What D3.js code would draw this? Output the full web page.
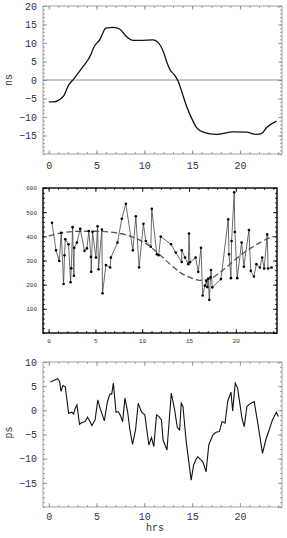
<!DOCTYPE html>
<html>
<head>
<meta charset="utf-8">
<script src="https://cdn.jsdelivr.net/npm/d3@7"></script>
<style>
  body { margin: 0; background: #fff; }
  svg text { font-family: "Liberation Mono", "Courier New", monospace; fill: #333; }
</style>
</head>
<body>
<div id="chart"></div>
<script>
// top panel: ns offset
const hours1 = [0, 0.5, 1.53, 2.05, 2.6, 3.6, 4.4, 4.67, 5.36, 5.98, 6.75, 7.45, 8.15, 8.85, 9.54, 10.93, 11.46, 11.98, 12.33, 12.68, 13.2, 13.55, 13.9, 14.42, 14.94, 15.47, 16.16, 17.56, 19.3, 20.7, 21.7, 22.25, 22.77, 23.82]
const ns = [-5.9, -5.9, -4.4, -1.5, 0.25, 3.66, 6.8, 8.6, 11, 14, 14.25, 13.7, 11.7, 10.7, 10.7, 10.85, 10.1, 7.7, 5, 2.8, 1.2, -0.4, -3, -7.1, -10.3, -12.9, -14.1, -14.7, -14, -14.1, -14.7, -14.5, -12.9, -11.1]

// middle panel: measurements and fitted curve
const hours2 = [0.36, 0.79, 1.14, 1.35, 1.6, 1.7, 1.78, 2.13, 2.35, 2.42, 2.56, 2.7, 2.74, 3.02, 3.38, 3.84, 4.09, 4.3, 4.52, 4.55, 4.69, 5.05, 5.23, 5.33, 5.69, 5.76, 6.12, 6.58, 6.65, 7.36, 7.82, 8.25, 9.0, 9.32, 9.67, 10.13, 10.38, 10.92, 11.02, 11.56, 11.75, 11.98, 13.08, 13.58, 14.22, 14.22, 14.57, 14.93, 15.0, 15.1, 15.71, 15.99, 16.28, 16.46, 16.7, 16.85, 16.95, 17.05, 17.17, 17.3, 17.35, 17.49, 18.41, 19.19, 19.27, 19.48, 19.55, 19.83, 19.9, 20.15, 20.62, 20.86, 21.4, 21.6, 21.93, 22.2, 22.57, 22.82, 23.03, 23.35, 23.45, 23.82]
const counts = [456, 342, 298, 415, 203, 322, 388, 367, 210, 268, 438, 237, 353, 374, 431, 340, 350, 422, 315, 253, 419, 312, 442, 264, 428, 164, 281, 271, 312, 374, 473, 535, 342, 483, 271, 452, 381, 357, 514, 326, 322, 399, 367, 333, 294, 342, 312, 285, 412, 293, 312, 253, 353, 155, 196, 215, 190, 225, 137, 230, 261, 189, 223, 470, 326, 227, 381, 582, 418, 227, 374, 274, 426, 257, 234, 285, 271, 312, 267, 408, 267, 271]
const fitHours = [0, 1.6, 3.38, 5.16, 6.93, 8.7, 10.5, 11.7, 12.97, 14.04, 15.1, 16.17, 17.24, 18.3, 19.37, 20.4, 21.5, 22.57, 23.6, 24.1]
const fitValues = [401, 416, 421, 421, 416, 401, 367, 330, 285, 251, 230, 218, 224, 251, 285, 319, 349, 374, 394, 400]

// bottom panel: ps residual
const hours3 = [0.17, 0.69, 0.94, 1.14, 1.28, 1.49, 1.73, 2.08, 2.43, 2.6, 2.77, 2.95, 3.22, 3.47, 3.81, 4.06, 4.26, 4.51, 4.85, 5.13, 5.37, 5.82, 6.14, 6.41, 6.59, 6.76, 7.04, 7.28, 7.52, 7.73, 7.97, 8.25, 8.49, 8.77, 9.08, 9.36, 9.71, 10.05, 10.47, 10.75, 10.99, 11.27, 11.54, 11.79, 11.96, 12.37, 12.82, 13.17, 13.45, 13.69, 13.86, 14.04, 14.38, 14.9, 15.15, 15.42, 15.6, 16.12, 16.46, 16.74, 17.16, 17.5, 17.85, 18.13, 18.44, 18.72, 19.06, 19.24, 19.51, 19.76, 20.21, 20.45, 20.73, 21.14, 21.49, 21.84, 22.36, 22.7, 23.05, 23.4, 23.81, 24.02]
const ps = [5.84, 6.33, 6.54, 5.98, 3.91, 5.15, 4.88, -0.6, -0.39, -0.8, 0.44, 1.14, -2.88, -2.53, -2.33, -1.43, -2.12, -3.16, -1.98, 2.17, 0.44, -2.19, 1.83, 3.35, 3.35, 5.64, -0.39, -0.25, -1.15, -2.33, 2.52, -0.25, -4.06, -7.04, -4.06, 1.48, -0.39, -0.94, -7.17, -5.65, -7.52, -0.94, -1.29, -1.98, -6.14, -8.21, 3.56, 0.1, -3.57, -4.06, 1.48, 0.79, -6.48, -14.45, -11.33, -10.08, -9.6, -10.64, -12.71, -7.17, -5.1, -4.54, -4.4, -2.33, -2.67, 1.83, 3.77, -0.11, 5.64, 4.6, -1.63, -3.37, 0.79, 1.48, 1.83, -2.33, -8.91, -6.14, -4.06, -1.98, -0.39, -1.29]

const xTicks = [0, 5, 10, 15, 20]

const W = 287, H = 538
const svg = d3.select('#chart').append('svg')
  .attr('width', W).attr('height', H)

function panel(opts) {
  const x = d3.scaleLinear().domain([-0.6, 24.4]).range([opts.left, opts.right])
  const y = d3.scaleLinear().domain(opts.yDomain).range([opts.bottom, opts.top])
  const g = svg.append('g')
  const fs = opts.fontSize

  const minorX = d3.range(0, 25, 1)
  const minorY = d3.range(opts.yDomain[0], opts.yDomain[1] + 0.001, opts.yMinor)
  const majorY = d3.range(opts.yDomain[0], opts.yDomain[1] + 0.001, opts.yMajor)

  const style = sel => {
    sel.select('.domain').remove()
    sel.selectAll('line').attr('stroke', opts.frame).attr('stroke-width', 0.8)
    sel.selectAll('text').attr('font-size', fs).attr('fill', '#333')
      .style('font-family', '"Liberation Mono", "Courier New", monospace')
  }

  // minor ticks, all four sides
  g.append('g').attr('transform', `translate(0,${opts.bottom})`)
    .call(d3.axisBottom(x).tickValues(minorX).tickSize(-2).tickFormat('')).call(style)
  g.append('g').attr('transform', `translate(0,${opts.top})`)
    .call(d3.axisTop(x).tickValues(minorX).tickSize(-2).tickFormat('')).call(style)
  g.append('g').attr('transform', `translate(${opts.left},0)`)
    .call(d3.axisLeft(y).tickValues(minorY).tickSize(-2).tickFormat('')).call(style)
  g.append('g').attr('transform', `translate(${opts.right},0)`)
    .call(d3.axisRight(y).tickValues(minorY).tickSize(-2).tickFormat('')).call(style)

  // major ticks with labels
  g.append('g').attr('transform', `translate(0,${opts.bottom})`)
    .call(d3.axisBottom(x).tickValues(xTicks).tickSize(-4).tickPadding(opts.xPad).tickFormat(d3.format('d')))
    .call(style)
  g.append('g').attr('transform', `translate(0,${opts.top})`)
    .call(d3.axisTop(x).tickValues(xTicks).tickSize(-4).tickFormat('')).call(style)
  g.append('g').attr('transform', `translate(${opts.left},0)`)
    .call(d3.axisLeft(y).tickValues(opts.yLabels).tickSize(-4).tickPadding(opts.yPad).tickFormat(d3.format('d')))
    .call(style)
  g.append('g').attr('transform', `translate(${opts.right},0)`)
    .call(d3.axisRight(y).tickValues(majorY).tickSize(-4).tickFormat('')).call(style)

  // frame
  g.append('rect')
    .attr('x', opts.left).attr('y', opts.top)
    .attr('width', opts.right - opts.left).attr('height', opts.bottom - opts.top)
    .attr('fill', 'none').attr('stroke', opts.frame).attr('stroke-width', opts.frameWidth)

  return { x, y, g }
}

// ---- panel 1
const p1 = panel({ left: 43, right: 282, top: 6, bottom: 154, yDomain: [-20, 20], yMajor: 5, yMinor: 1,
  yLabels: [-15, -10, -5, 0, 5, 10, 15, 20], frame: '#8a8a8a', frameWidth: 0.8, fontSize: 10, xPad: 8, yPad: 6 })
p1.g.append('line')
  .attr('x1', 43).attr('x2', 282).attr('y1', p1.y(0)).attr('y2', p1.y(0))
  .attr('stroke', '#777').attr('stroke-width', 0.8)
p1.g.append('path')
  .datum(d3.zip(hours1, ns))
  .attr('fill', 'none').attr('stroke', '#111').attr('stroke-width', 1.3)
  .attr('d', d3.line().curve(d3.curveMonotoneX).x(d => p1.x(d[0])).y(d => p1.y(d[1])))
svg.append('text').attr('transform', `translate(12,${p1.y(0)}) rotate(-90)`)
  .attr('text-anchor', 'middle').attr('font-size', 10).text('ns')

// ---- panel 2
const p2 = panel({ left: 43, right: 277, top: 188, bottom: 333, yDomain: [0, 600], yMajor: 100, yMinor: 20,
  yLabels: [100, 200, 300, 400, 500, 600], frame: '#000', frameWidth: 1.4, fontSize: 6, xPad: 6, yPad: 6 })
p2.g.append('path')
  .datum(d3.zip(fitHours, fitValues))
  .attr('fill', 'none').attr('stroke', '#555').attr('stroke-width', 1.3)
  .attr('stroke-dasharray', '6,3')
  .attr('d', d3.line().curve(d3.curveMonotoneX).x(d => p2.x(d[0])).y(d => p2.y(d[1])))
const pts2 = d3.zip(hours2, counts)
p2.g.append('path')
  .datum(pts2)
  .attr('fill', 'none').attr('stroke', '#444').attr('stroke-width', 0.8)
  .attr('d', d3.line().x(d => p2.x(d[0])).y(d => p2.y(d[1])))
p2.g.selectAll('circle').data(pts2).join('circle')
  .attr('cx', d => p2.x(d[0])).attr('cy', d => p2.y(d[1]))
  .attr('r', 1.3).attr('fill', '#000')

// ---- panel 3
const p3 = panel({ left: 43, right: 282, top: 362, bottom: 507, yDomain: [-20, 10], yMajor: 5, yMinor: 1,
  yLabels: [-15, -10, -5, 0, 5, 10], frame: '#8a8a8a', frameWidth: 0.8, fontSize: 10, xPad: 6, yPad: 6 })
p3.g.append('path')
  .datum(d3.zip(hours3, ps))
  .attr('fill', 'none').attr('stroke', '#111').attr('stroke-width', 1.1)
  .attr('d', d3.line().x(d => p3.x(d[0])).y(d => p3.y(d[1])))
svg.append('text').attr('transform', `translate(12,${p3.y(-5) - 2}) rotate(-90)`)
  .attr('text-anchor', 'middle').attr('font-size', 10).text('ps')
svg.append('text').attr('x', 155).attr('y', 531)
  .attr('text-anchor', 'middle').attr('font-size', 10).text('hrs')
</script>
</body>
</html>
